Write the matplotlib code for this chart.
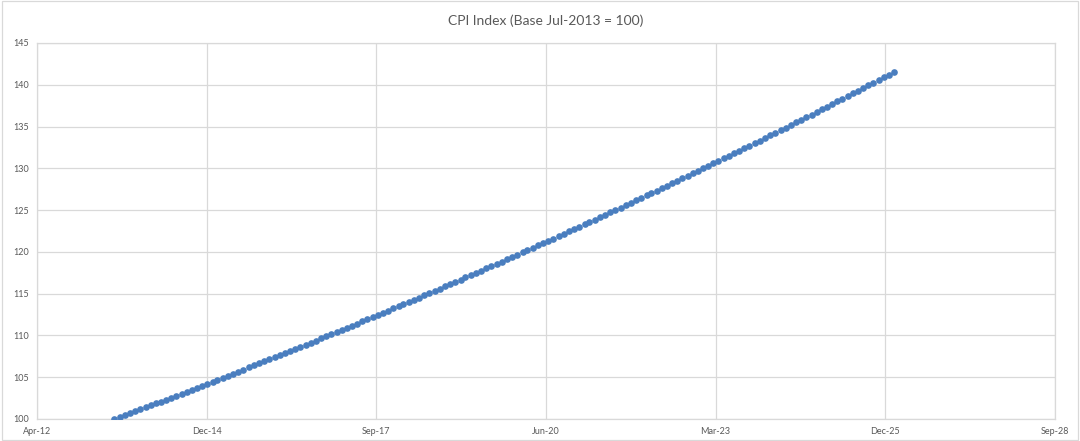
import matplotlib.pyplot as plt
import matplotlib.dates as mdates
import pandas as pd
from matplotlib.patches import Rectangle

plt.rcParams['font.family'] = ['Lato', 'DejaVu Sans']

# monthly CPI index, Jul-2013 .. Feb-2026 (base Jul-2013 = 100)
cpi = [
    100.00, 100.23, 100.46, 100.69, 100.92, 101.16, 101.39, 101.62, 101.86, 102.09, 102.33, 102.56,
    102.80, 103.04, 103.27, 103.51, 103.75, 103.99, 104.23, 104.47, 104.71, 104.95, 105.19, 105.44,
    105.68, 105.92, 106.17, 106.41, 106.66, 106.90, 107.15, 107.39, 107.64, 107.89, 108.14, 108.39,
    108.64, 108.89, 109.14, 109.39, 109.64, 109.89, 110.15, 110.40, 110.66, 110.91, 111.17, 111.42,
    111.68, 111.94, 112.19, 112.45, 112.71, 112.97, 113.23, 113.49, 113.75, 114.02, 114.28, 114.54,
    114.81, 115.07, 115.34, 115.60, 115.87, 116.13, 116.40, 116.67, 116.94, 117.21, 117.48, 117.75,
    118.02, 118.29, 118.57, 118.84, 119.11, 119.39, 119.66, 119.94, 120.21, 120.49, 120.77, 121.05,
    121.33, 121.60, 121.89, 122.17, 122.45, 122.73, 123.01, 123.30, 123.58, 123.86, 124.15, 124.44,
    124.72, 125.01, 125.30, 125.59, 125.88, 126.17, 126.46, 126.75, 127.04, 127.33, 127.63, 127.92,
    128.21, 128.51, 128.81, 129.10, 129.40, 129.70, 130.00, 130.30, 130.60, 130.90, 131.20, 131.50,
    131.80, 132.11, 132.41, 132.72, 133.02, 133.33, 133.64, 133.95, 134.25, 134.56, 134.87, 135.18,
    135.50, 135.81, 136.12, 136.43, 136.75, 137.06, 137.38, 137.70, 138.01, 138.33, 138.65, 138.97,
    139.29, 139.61, 139.93, 140.25, 140.58, 140.90, 141.23, 141.55,
]
dates = pd.date_range('2013-07-01', periods=len(cpi), freq='MS')

# x ticks every 1000 days (Excel-style date axis)
tick_dates = pd.to_datetime(['2012-04-01', '2014-12-27', '2017-09-22', '2020-06-18',
                             '2023-03-15', '2025-12-10', '2028-09-05'])
y_ticks = [100, 105, 110, 115, 120, 125, 130, 135, 140, 145]

grid_c = '#d9d9d9'
text_c = '#595959'

fig = plt.figure(figsize=(10.8, 4.41), dpi=100)
ax = fig.add_axes([37 / 1080, 1 - 419 / 441, (1055 - 37) / 1080, (419 - 43) / 441])

ax.plot(dates, cpi, linestyle='none', marker='o', markersize=4.8,
        color='#4a7ebf', markeredgewidth=0, zorder=3)

ax.set_xlim(tick_dates[0], tick_dates[-1])
ax.set_ylim(100, 145)
ax.set_xticks(tick_dates)
ax.xaxis.set_major_formatter(mdates.DateFormatter('%b-%y'))
ax.set_yticks(y_ticks)

ax.grid(True, color=grid_c, linewidth=0.9)
ax.set_axisbelow(True)
for s in ax.spines.values():
    s.set_color(grid_c)
    s.set_linewidth(0.9)
ax.tick_params(length=0, labelsize=6.5, colors=text_c, pad=6)
ax.set_title('CPI Index (Base Jul-2013 = 100)', fontsize=10, color=text_c, pad=13)

fig.add_artist(Rectangle((0.002, 0.003), 0.996, 0.994, transform=fig.transFigure,
                         fill=False, edgecolor=grid_c, linewidth=0.9))

fig.savefig('out.png', dpi=100)
